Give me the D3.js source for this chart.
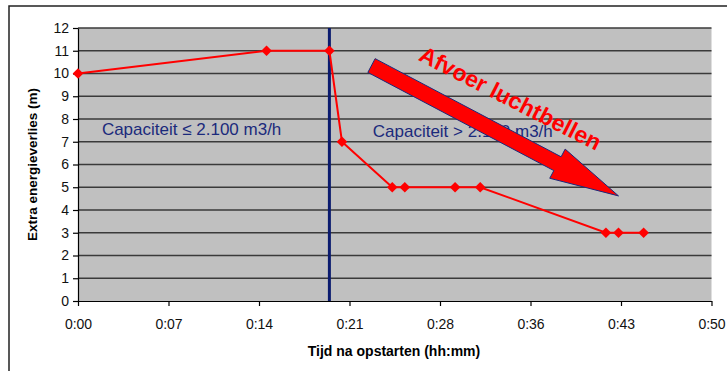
<!DOCTYPE html>
<html>
<head>
<meta charset="utf-8">
<script src="https://cdn.jsdelivr.net/npm/d3@7"></script>
<style>
  body { margin: 0; background: #fff; }
  svg { display: block; font-family: Arial, "Liberation Sans", sans-serif; }
</style>
</head>
<body>
<svg id="drawing_region"></svg>
<script>
// minutes after start vs extra energy loss (m)
const timeMin = [0, 15, 20, 21, 25, 26, 30, 32, 42, 43, 45];
const energyLoss = [10, 11, 11, 7, 5, 5, 5, 5, 3, 3, 3];

// excel time axis: major unit 0.005 day = 7.2 min
const xTickValues = [0, 7.2, 14.4, 21.6, 28.8, 36, 43.2, 50.4];
const xTickLabels = ["0:00", "0:07", "0:14", "0:21", "0:28", "0:36", "0:43", "0:50"];
const yTickValues = [0, 1, 2, 3, 4, 5, 6, 7, 8, 9, 10, 11, 12];

const thresholdMin = 20;
const labelLow = "Capaciteit \u2264 2.100 m3/h";
const labelHigh = "Capaciteit > 2.100 m3/h";
const arrowText = "Afvoer luchtbellen";
const arrowFrom = [23.35, 10.35];
const arrowTo = [43.0, 4.62];

const config = {
    width: 727,
    height: 371,
    margin: {top: 28, right: 15, bottom: 70, left: 78}
};

const svg = d3.select('#drawing_region')
    .attr('width', config.width)
    .attr('height', config.height);

// outer chart frame
svg.append('rect')
    .attr('x', 9).attr('y', 6)
    .attr('width', 730).attr('height', 380)
    .attr('fill', 'white')
    .attr('stroke', '#222')
    .attr('stroke-width', 1.5);

const innerW = config.width - config.margin.left - config.margin.right - 0.5;
const innerH = config.height - config.margin.top - config.margin.bottom;

const chart = svg.append('g')
    .attr('transform', `translate(${config.margin.left}, ${config.margin.top})`);

const xscale = d3.scaleLinear().domain([0, 50.4]).range([0, innerW]);
const yscale = d3.scaleLinear().domain([0, 12]).range([innerH, 0]);

chart.append('rect')
    .attr('width', innerW).attr('height', innerH)
    .attr('fill', '#c0c0c0');

// gridlines
chart.selectAll('.grid')
    .data(yTickValues.slice(1))
    .enter().append('line')
    .attr('x1', 0).attr('x2', innerW)
    .attr('y1', d => yscale(d)).attr('y2', d => yscale(d))
    .attr('stroke', '#3a3a3a')
    .attr('stroke-width', 1.3);

// axes
const xaxis = d3.axisBottom(xscale)
    .tickValues(xTickValues)
    .tickFormat((d, i) => xTickLabels[i])
    .tickSize(5).tickSizeOuter(0);
const yaxis = d3.axisLeft(yscale)
    .tickValues(yTickValues)
    .tickSize(5).tickSizeOuter(0);

const gx = chart.append('g')
    .attr('transform', `translate(0, ${innerH})`)
    .call(xaxis);
const gy = chart.append('g').call(yaxis);

[gx, gy].forEach(g => {
    g.select('.domain').attr('stroke', '#000').attr('stroke-width', 1.2);
    g.selectAll('.tick line').attr('stroke', '#000').attr('stroke-width', 1.2);
    g.selectAll('.tick text')
        .attr('fill', '#111')
        .style('font-size', '14px')
        .style('font-family', 'Arial, "Liberation Sans", sans-serif');
});
gx.selectAll('.tick text').attr('dy', '1.45em');
gy.selectAll('.tick text').attr('x', -9);

// threshold line
chart.append('line')
    .attr('x1', xscale(thresholdMin)).attr('x2', xscale(thresholdMin))
    .attr('y1', 0).attr('y2', innerH)
    .attr('stroke', '#0a1a6e')
    .attr('stroke-width', 3);

// region labels
chart.append('text')
    .attr('x', xscale(1.9)).attr('y', yscale(7.3))
    .attr('fill', '#1b2a7c')
    .style('font-size', '17px')
    .text(labelLow);
chart.append('text')
    .attr('x', xscale(23.45)).attr('y', yscale(7.2))
    .attr('fill', '#1b2a7c')
    .style('font-size', '17px')
    .text(labelHigh);

// arrow
const p0 = [xscale(arrowFrom[0]), yscale(arrowFrom[1])];
const p1 = [xscale(arrowTo[0]), yscale(arrowTo[1])];
const dx = p1[0] - p0[0], dy = p1[1] - p0[1];
const len = Math.hypot(dx, dy);
const ux = dx / len, uy = dy / len;
const nx = -uy, ny = ux;
const shaftW = 7.8, headW = 16.5, headL = 69;
const bx = p1[0] - ux * headL, by = p1[1] - uy * headL;
const arrowPts = [
    [p0[0] + nx * shaftW, p0[1] + ny * shaftW],
    [bx + nx * shaftW, by + ny * shaftW],
    [bx + nx * headW, by + ny * headW],
    p1,
    [bx - nx * headW, by - ny * headW],
    [bx - nx * shaftW, by - ny * shaftW],
    [p0[0] - nx * shaftW, p0[1] - ny * shaftW]
];
chart.append('path')
    .attr('d', d3.line()(arrowPts) + 'Z')
    .attr('fill', '#ff0000')
    .attr('stroke', '#1b2a7c')
    .attr('stroke-width', 1);

chart.append('text')
    .attr('transform', `translate(${xscale(27.0)}, ${yscale(10.6)}) rotate(27)`)
    .attr('fill', '#ff0000')
    .style('font-size', '23px')
    .style('font-weight', 'bold')
    .text(arrowText);

// data line
const data = timeMin.map((t, i) => ({t: t, v: energyLoss[i]}));
chart.append('path')
    .datum(data)
    .attr('d', d3.line().x(d => xscale(d.t)).y(d => yscale(d.v)))
    .attr('fill', 'none')
    .attr('stroke', '#ff0000')
    .attr('stroke-width', 2);

chart.selectAll('.marker')
    .data(data)
    .enter().append('path')
    .attr('d', d3.symbol().type(d3.symbolDiamond2).size(72))
    .attr('transform', d => `translate(${xscale(d.t)}, ${yscale(d.v)})`)
    .attr('fill', '#ff0000');

// axis titles
svg.append('text')
    .attr('transform', `translate(37, ${config.margin.top + innerH / 2}) rotate(-90)`)
    .attr('text-anchor', 'middle')
    .style('font-size', '13.5px')
    .style('font-weight', 'bold')
    .text('Extra energieverlies (m)');

svg.append('text')
    .attr('x', 394).attr('y', 356)
    .attr('text-anchor', 'middle')
    .style('font-size', '14px')
    .style('font-weight', 'bold')
    .text('Tijd na opstarten (hh:mm)');
</script>
</body>
</html>
